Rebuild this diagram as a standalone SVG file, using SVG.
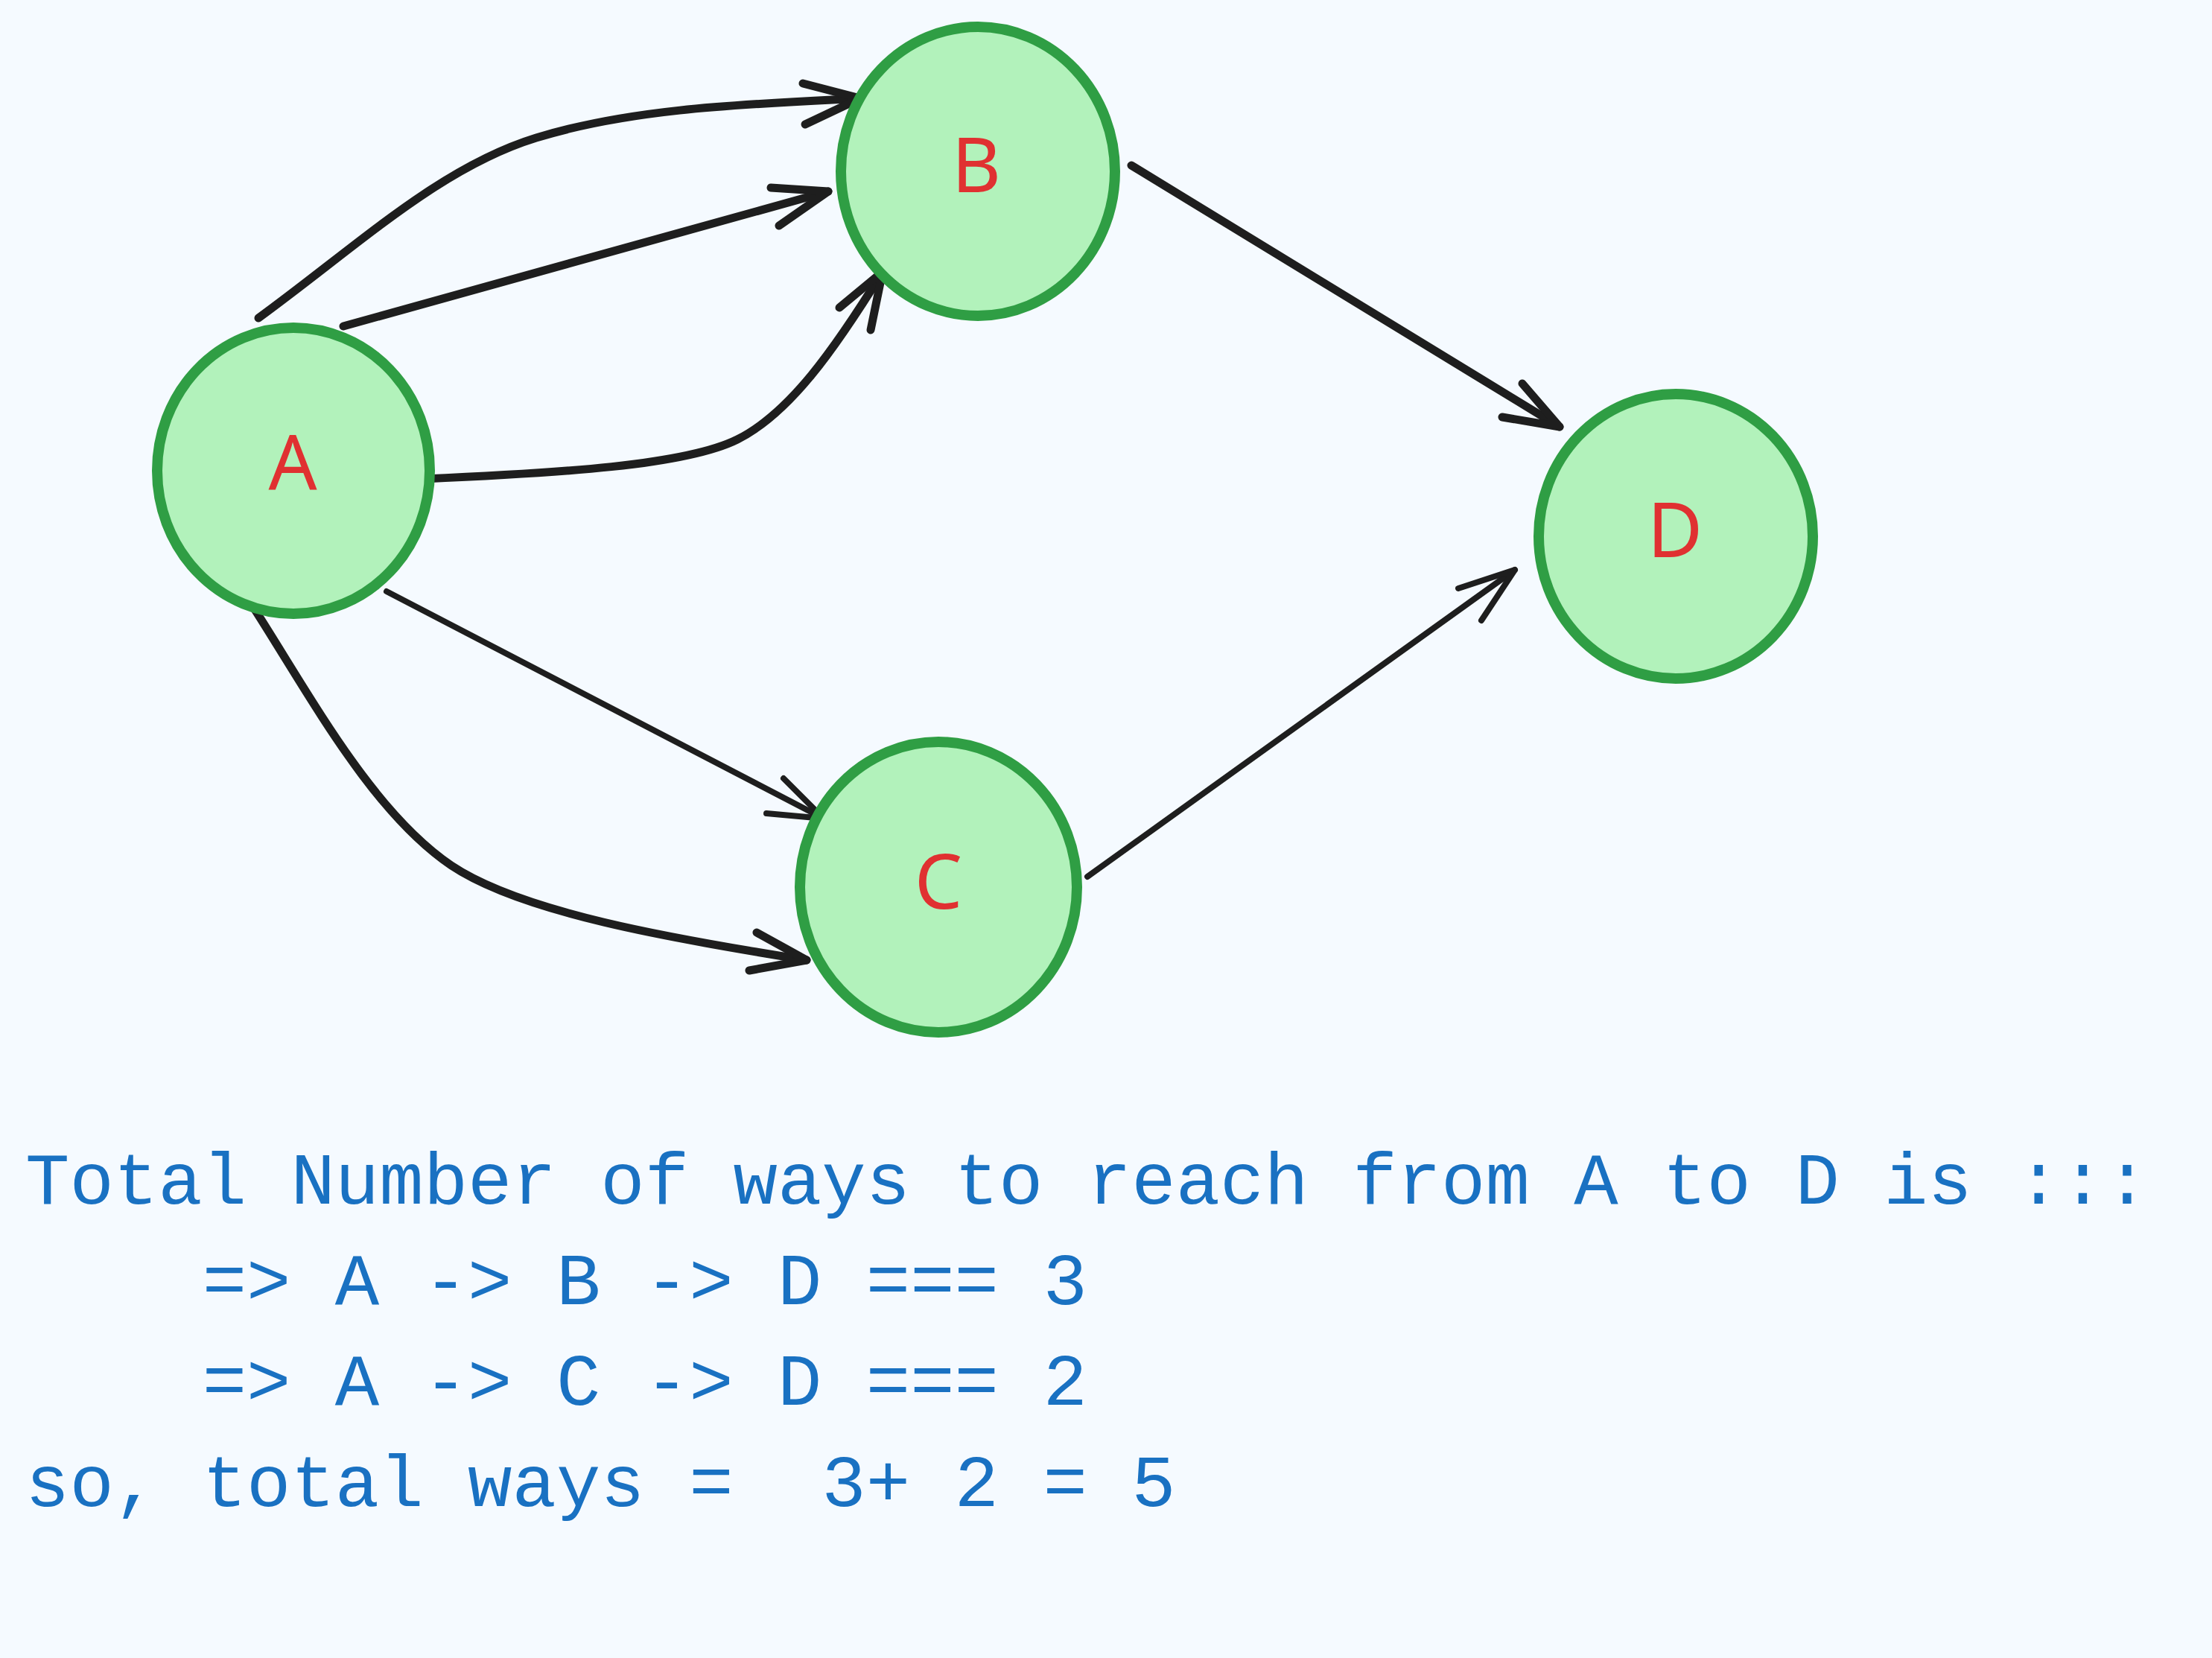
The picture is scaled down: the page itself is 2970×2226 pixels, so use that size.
<svg xmlns="http://www.w3.org/2000/svg" width="2970" height="2226" viewBox="0 0 2970 2226">
<style>
.node{fill:#b2f2bb;stroke:#2f9e44;stroke-width:14}
.lbl{font-family:"Noto Sans","Liberation Sans",sans-serif;font-size:102px;fill:#e03131;text-anchor:middle}
.edge{fill:none;stroke:#1e1e1e;stroke-linecap:round;stroke-linejoin:round}
.thick{stroke-width:11}
.thin{stroke-width:8}
.note{font-family:"Liberation Mono",monospace;font-size:99px;fill:#1971c2;white-space:pre}
</style>
<rect width="2970" height="2226" fill="#f5faff"/>
<g id="connectors">
<g id="e-a-b-1"><path class="edge thick" d="M347,427 C480,330 590,225 720,185 C850,145 1000,140 1155,132"/><path class="edge thick" d="M1078,112 L1155,132 L1081,167"/></g>
<g id="e-a-b-2"><path class="edge thick" d="M461,438 L1112,257"/><path class="edge thick" d="M1035,252 L1112,257 L1046,303"/></g>
<g id="e-a-b-3"><path class="edge thick" d="M569,643 C750,635 920,625 990,590 C1060,555 1120,470 1185,365"/><path class="edge thick" d="M1127,413 L1185,365 L1169,443"/></g>
<g id="e-a-c-1"><path class="edge thin" d="M519,794 L1106,1099"/><path class="edge thin" d="M1052,1045 L1106,1099 L1029,1092"/></g>
<g id="e-a-c-2"><path class="edge thick" d="M340,815 C420,940 500,1090 606,1162 C700,1225 900,1260 1083,1289"/><path class="edge thick" d="M1016,1252 L1083,1289 L1006,1303"/></g>
<g id="e-b-d"><path class="edge thick" d="M1519,222 L2094,573"/><path class="edge thick" d="M2044,515 L2094,573 L2017,560"/></g>
<g id="e-c-d"><path class="edge thin" d="M1460,1177 L2034,765"/><path class="edge thin" d="M1958,790 L2034,765 L1989,833"/></g>
</g>
<g id="node-a"><ellipse class="node" cx="394" cy="632" rx="183" ry="192"/><text class="lbl" x="393" y="658">A</text></g>
<g id="node-b"><ellipse class="node" cx="1313" cy="230" rx="184" ry="194"/><text class="lbl" x="1311" y="258">B</text></g>
<g id="node-c"><ellipse class="node" cx="1260" cy="1191" rx="186" ry="195"/><text class="lbl" x="1260" y="1220">C</text></g>
<g id="node-d"><ellipse class="node" cx="2250" cy="720" rx="184" ry="191"/><text class="lbl" x="2249" y="748">D</text></g>
<g id="notes">
<text class="note" xml:space="preserve" x="34" y="1616">Total Number of ways to reach from A to D is :::</text>
<text class="note" xml:space="preserve" x="34" y="1751">    =&gt; A -&gt; B -&gt; D === 3</text>
<text class="note" xml:space="preserve" x="34" y="1886">    =&gt; A -&gt; C -&gt; D === 2</text>
<text class="note" xml:space="preserve" x="34" y="2022">so, total ways =  3+ 2 = 5</text>
</g>
</svg>
